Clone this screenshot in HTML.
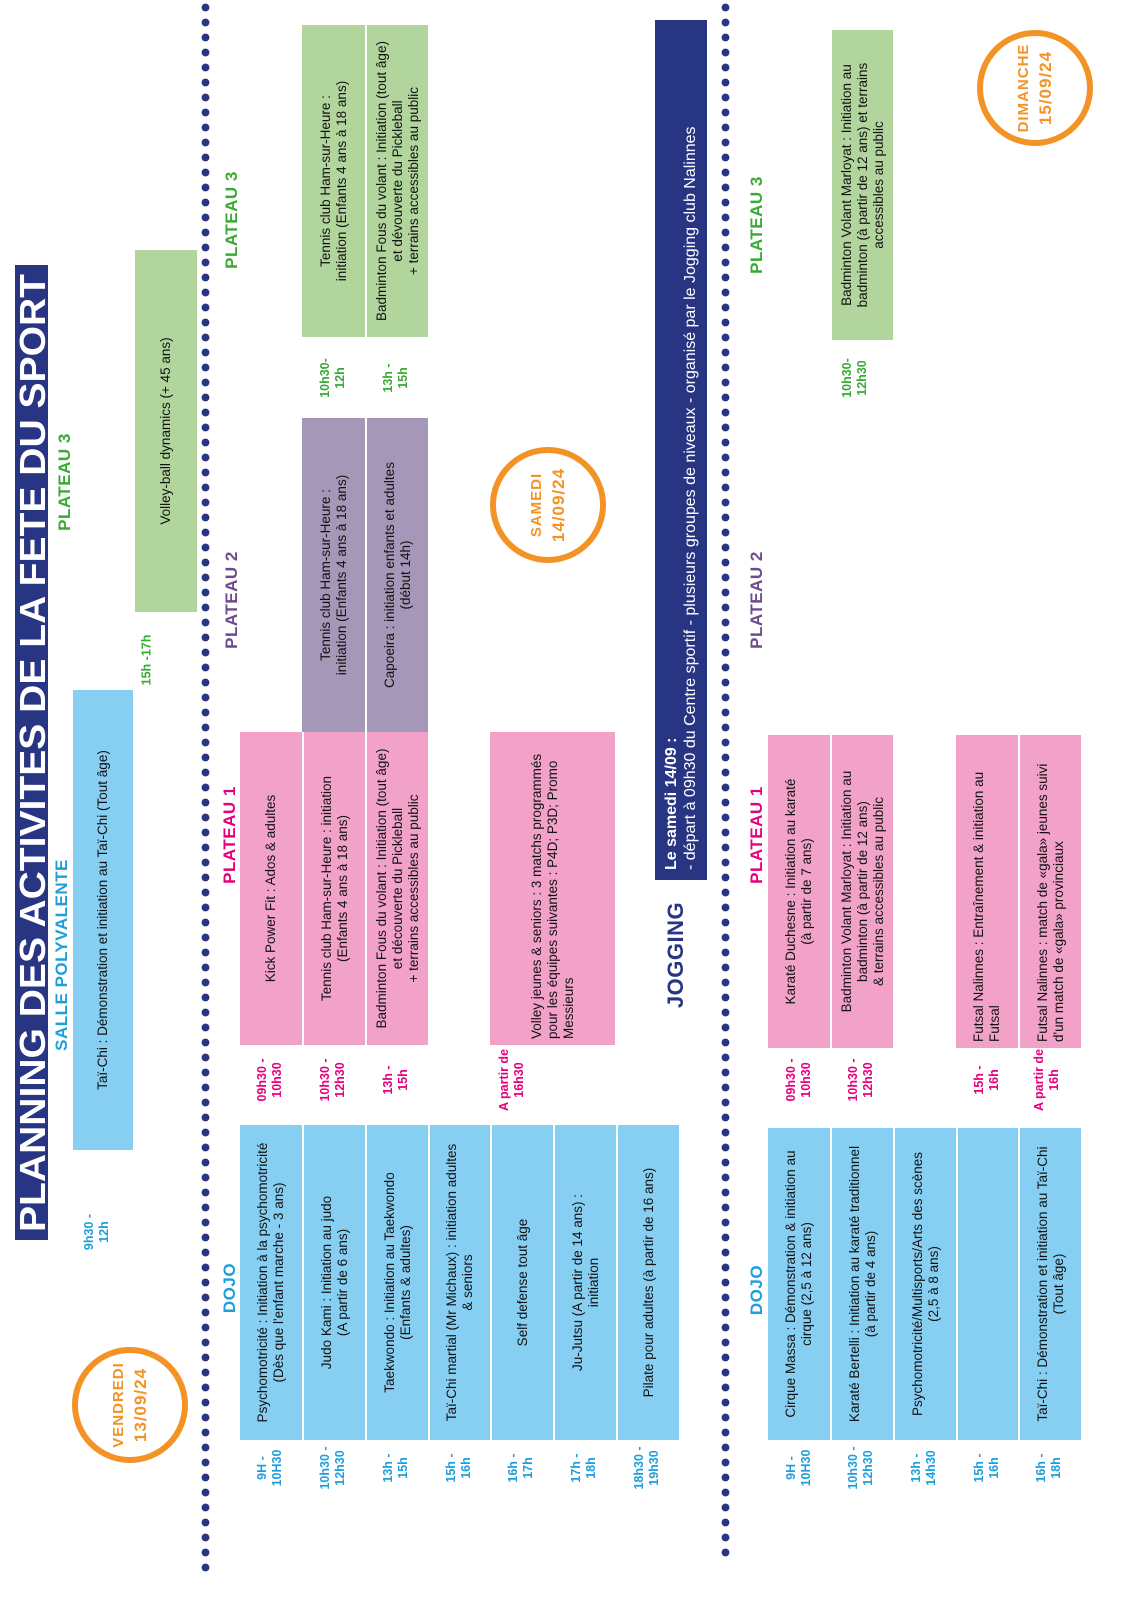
<!DOCTYPE html>
<html><head><meta charset="utf-8"><style>
html,body{margin:0;padding:0;background:#fff;}
body{width:1128px;height:1600px;overflow:hidden;position:relative;}
#L{position:absolute;left:0;top:0;width:1600px;height:1128px;transform-origin:0 0;transform:translate(0,1600px) rotate(-90deg);font-family:"Liberation Sans Narrow","Liberation Sans",sans-serif;color:#111;}
.a{position:absolute;}
.box{position:absolute;display:flex;align-items:center;justify-content:center;text-align:center;font-size:13.5px;line-height:16px;box-sizing:border-box;padding:0 6px;}
.cy{background:#86cff3;} .pk{background:#f2a2c9;} .pu{background:#a597b7;} .gr{background:#b2d59d;}
.row{border-top:2px solid #fff;}
.lbl{position:absolute;font-weight:bold;font-size:17px;transform:translate(-50%,-50%);white-space:nowrap;letter-spacing:0.5px;}
.t{position:absolute;font-weight:bold;font-size:12.5px;line-height:15px;transform:translate(-50%,-50%);text-align:center;white-space:nowrap;}
.cT{color:#1e9fdc}.mT{color:#e5007e}.gT{color:#3aaa35}.pT{color:#6c4c8c}
.dots{position:absolute;height:9px;background-image:radial-gradient(circle,#283583 3.6px,transparent 4.2px);background-size:15px 9px;}
.circ{position:absolute;width:104px;height:104px;border:6px solid #f39325;border-radius:50%;transform:translate(-50%,-50%);display:flex;flex-direction:column;align-items:center;justify-content:center;color:#f39325;font-weight:bold;font-size:15px;line-height:22px;letter-spacing:1px;}
.circ b{font-size:17px;}
.left{justify-content:flex-start;text-align:left;}
</style></head><body>
<div id="L">
<div class="a" style="left:360px;top:15px;width:975px;height:33px;background:#283583;"></div>
<svg class="a" style="left:360px;top:15px" width="975" height="33"><text x="8" y="30" textLength="958" lengthAdjust="spacingAndGlyphs" font-family="Liberation Sans Narrow, Liberation Sans, sans-serif" font-size="36" font-weight="bold" fill="#fff">PLANNING DES ACTIVITES DE LA FETE DU SPORT</text></svg>

<div class="dots" style="left:25px;top:201px;width:1575px;"></div>
<div class="dots" style="left:40px;top:721px;width:1560px;"></div>

<div class="circ" style="left:195px;top:130px;">VENDREDI<b>13/09/24</b></div>
<div class="circ" style="left:1095px;top:548px;">SAMEDI<b>14/09/24</b></div>
<div class="circ" style="left:1512px;top:1035px;">DIMANCHE<b>15/09/24</b></div>

<div class="lbl cT" style="left:645px;top:62px;">SALLE POLYVALENTE</div>
<div class="lbl gT" style="left:1118px;top:65px;">PLATEAU 3</div>
<div class="t cT" style="left:368px;top:97px;">9h30 -<br>12h</div>
<div class="box cy" style="left:450px;top:73px;width:460px;height:60px;">Taï-Chi : Démonstration et initiation au Taï-Chi (Tout âge)</div>
<div class="t gT" style="left:940px;top:147px;">15h -17h</div>
<div class="box gr" style="left:988px;top:135px;width:362px;height:62px;">Volley-ball dynamics (+ 45 ans)</div>

<div class="lbl cT" style="left:312px;top:230px;">DOJO</div>
<div class="lbl mT" style="left:765px;top:230px;">PLATEAU 1</div>
<div class="lbl pT" style="left:1000px;top:232px;">PLATEAU 2</div>
<div class="lbl gT" style="left:1380px;top:232px;">PLATEAU 3</div>

<div class="box cy" style="left:160px;top:240px;width:315px;height:62px;">Psychomotricité : Initiation à la psychomotricité (Dès que l'enfant marche - 3 ans)</div>
<div class="box cy row" style="left:160px;top:302px;width:315px;height:63px;">Judo Kami : Initiation au judo<br>(A partir de 6 ans)</div>
<div class="box cy row" style="left:160px;top:365px;width:315px;height:63px;">Taekwondo : Initiation au Taekwondo<br>(Enfants &amp; adultes)</div>
<div class="box cy row" style="left:160px;top:428px;width:315px;height:62px;">Taï-Chi martial (Mr Michaux) : initiation adultes<br>&amp; seniors</div>
<div class="box cy row" style="left:160px;top:490px;width:315px;height:63px;">Self defense tout âge</div>
<div class="box cy row" style="left:160px;top:553px;width:315px;height:63px;">Ju-Jutsu (A partir de 14 ans) :<br>initiation</div>
<div class="box cy row" style="left:160px;top:616px;width:315px;height:63px;">Pilate pour adultes (à partir de 16 ans)</div>
<div class="t cT" style="left:132px;top:270px;">9H -<br>10H30</div>
<div class="t cT" style="left:132px;top:333px;">10h30 -<br>12h30</div>
<div class="t cT" style="left:132px;top:396px;">13h -<br>15h</div>
<div class="t cT" style="left:132px;top:459px;">15h -<br>16h</div>
<div class="t cT" style="left:132px;top:521px;">16h -<br>17h</div>
<div class="t cT" style="left:132px;top:584px;">17h -<br>18h</div>
<div class="t cT" style="left:132px;top:647px;">18h30 -<br>19h30</div>

<div class="box pk" style="left:555px;top:240px;width:313px;height:62px;">Kick Power Fit : Ados &amp; adultes</div>
<div class="box pk row" style="left:555px;top:302px;width:313px;height:63px;">Tennis club Ham-sur-Heure : initiation<br>(Enfants 4 ans à 18 ans)</div>
<div class="box pk row" style="left:555px;top:365px;width:313px;height:63px;">Badminton Fous du volant : Initiation (tout âge)<br>et découverte du Pickleball<br>+ terrains accessibles au public</div>
<div class="box pk left" style="left:555px;top:490px;width:313px;height:125px;">Volley jeunes &amp; seniors : 3 matchs programmés<br>pour les équipes suivantes : P4D; P3D; Promo<br>Messieurs</div>
<div class="t mT" style="left:520px;top:270px;">09h30 -<br>10h30</div>
<div class="t mT" style="left:520px;top:333px;">10h30 -<br>12h30</div>
<div class="t mT" style="left:520px;top:396px;">13h -<br>15h</div>
<div class="t mT" style="left:520px;top:512px;">A partir de<br>16h30</div>

<div class="box pu" style="left:868px;top:302px;width:314px;height:63px;">Tennis club Ham-sur-Heure :<br>initiation (Enfants 4 ans à 18 ans)</div>
<div class="box pu row" style="left:868px;top:365px;width:314px;height:63px;">Capoeira : initiation enfants et adultes<br>(début 14h)</div>

<div class="box gr" style="left:1263px;top:302px;width:312px;height:63px;">Tennis club Ham-sur-Heure :<br>initiation (Enfants 4 ans à 18 ans)</div>
<div class="box gr row" style="left:1263px;top:365px;width:312px;height:63px;">Badminton Fous du volant : Initiation (tout âge)<br>et dévouverte du Pickleball<br>+ terrains accessibles au public</div>
<div class="t gT" style="left:1222px;top:333px;">10h30-<br>12h</div>
<div class="t gT" style="left:1222px;top:396px;">13h -<br>15h</div>

<div class="lbl" style="left:645px;top:676px;color:#283583;font-size:22px;">JOGGING</div>
<div class="a" style="left:720px;top:655px;width:860px;height:52px;background:#283583;color:#fff;font-size:16px;line-height:19px;box-sizing:border-box;padding:7px 10px;">
<b>Le samedi 14/09 :</b><br>- départ à 09h30 du Centre sportif - plusieurs groupes de niveaux - organisé par le Jogging club Nalinnes</div>

<div class="lbl cT" style="left:310px;top:757px;">DOJO</div>
<div class="lbl mT" style="left:765px;top:757px;">PLATEAU 1</div>
<div class="lbl pT" style="left:1000px;top:757px;">PLATEAU 2</div>
<div class="lbl gT" style="left:1375px;top:757px;">PLATEAU 3</div>

<div class="box cy" style="left:160px;top:768px;width:312px;height:62px;">Cirque Massa : Démonstration &amp; initiation au<br>cirque (2,5 à 12 ans)</div>
<div class="box cy row" style="left:160px;top:830px;width:312px;height:63px;">Karaté Bertelli : Initiation au karaté traditionnel<br>(à partir de 4 ans)</div>
<div class="box cy row" style="left:160px;top:893px;width:312px;height:63px;">Psychomotricité/Multisports/Arts des scènes<br>(2,5 à 8 ans)</div>
<div class="box cy row" style="left:160px;top:956px;width:312px;height:62px;"></div>
<div class="box cy row" style="left:160px;top:1018px;width:312px;height:63px;">Taï-Chi : Démonstration et initiation au Taï-Chi<br>(Tout âge)</div>
<div class="t cT" style="left:132px;top:799px;">9H -<br>10H30</div>
<div class="t cT" style="left:132px;top:861px;">10h30 -<br>12h30</div>
<div class="t cT" style="left:132px;top:924px;">13h -<br>14h30</div>
<div class="t cT" style="left:132px;top:987px;">15h -<br>16h</div>
<div class="t cT" style="left:132px;top:1049px;">16h -<br>18h</div>

<div class="box pk" style="left:552px;top:768px;width:313px;height:62px;">Karaté Duchesne : Initiation au karaté<br>(à partir de 7 ans)</div>
<div class="box pk row" style="left:552px;top:830px;width:313px;height:63px;">Badminton Volant Marloyat : Initiation au<br>badminton (à partir de 12 ans)<br>&amp; terrains accessibles au public</div>
<div class="box pk left" style="left:552px;top:956px;width:313px;height:62px;">Futsal Nalinnes : Entraînement &amp; initiation au<br>Futsal</div>
<div class="box pk row left" style="left:552px;top:1018px;width:313px;height:63px;">Futsal Nalinnes : match de «gala» jeunes suivi<br>d'un match de «gala» provinciaux</div>
<div class="t mT" style="left:520px;top:799px;">09h30 -<br>10h30</div>
<div class="t mT" style="left:520px;top:861px;">10h30 -<br>12h30</div>
<div class="t mT" style="left:520px;top:987px;">15h -<br>16h</div>
<div class="t mT" style="left:520px;top:1047px;">A partir de<br>16h</div>

<div class="box gr" style="left:1260px;top:832px;width:310px;height:61px;">Badminton Volant Marloyat : Initiation au<br>badminton (à partir de 12 ans) et terrains<br>accessibles au public</div>
<div class="t gT" style="left:1222px;top:855px;">10h30-<br>12h30</div>
</div>
</body></html>
